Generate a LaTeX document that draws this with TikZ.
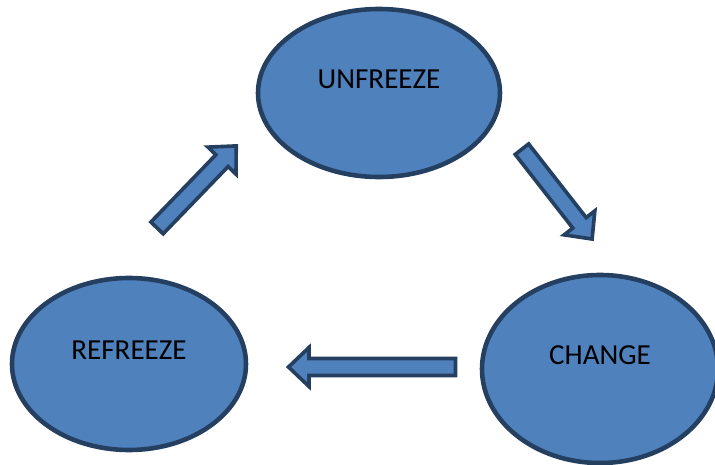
\documentclass[tikz,border=0pt]{standalone}
\usepackage{fontspec}
\setmainfont{Carlito}
\usepackage{xcolor}
\usetikzlibrary{shapes.geometric}
\definecolor{stagefill}{HTML}{4F81BD}
\definecolor{stageline}{HTML}{243F60}
\tikzset{
  stage/.style={ellipse,fill=stagefill,draw=stageline,line width=3.9pt,inner sep=0pt},
  stagelabel/.style={font=\fontsize{24.8}{29}\selectfont,text=black,yshift=0.4cm},
  blockarrow/.style={fill=stagefill,draw=stageline,line width=3.1pt,line join=miter}
}

\begin{document}
\begin{tikzpicture}[x=0.03cm,y=0.03cm]
\useasboundingbox (0,0) rectangle (715,464);
\clip (0,0) rectangle (715,464);
% Stages
\node[stage,minimum width=7.26cm,minimum height=5.04cm,
  label={[stagelabel]center:UNFREEZE}] (unfreeze) at (379,371) {};
\node[stage,minimum width=7.02cm,minimum height=5.16cm,
  label={[stagelabel]center:REFREEZE}] (refreeze) at (129,100) {};
\node[stage,minimum width=7.08cm,minimum height=5.64cm,
  label={[stagelabel]center:CHANGE}] (change) at (600,95) {};
% Block arrows: (tail x, tail y, angle, length)
\foreach \tx/\ty/\ang/\len in {156/235/46/117, 521/316/-52/117, 457/97/180/170}{%
  \begin{scope}[shift={(\tx,\ty)},rotate=\ang]
    \draw[blockarrow] (1.5,-8.5) -- (\len-22,-8.5) -- (\len-22,-19.5)
      -- (\len-1.5,0) -- (\len-22,19.5) -- (\len-22,8.5) -- (1.5,8.5) -- cycle;
  \end{scope}
}
\end{tikzpicture}
\end{document}
